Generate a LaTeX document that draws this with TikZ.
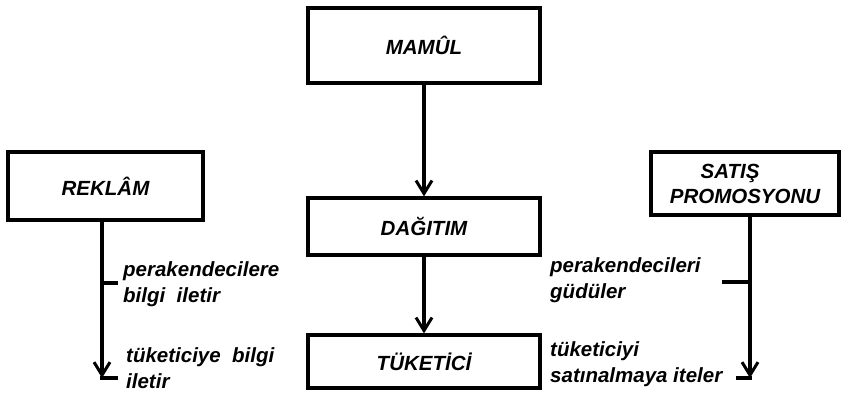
\documentclass[tikz,border=0pt]{standalone}
\usepackage{fontspec}
\setmainfont{Liberation Sans}
\usetikzlibrary{arrows.meta}
\tikzset{
  box/.style={draw, line width=3.2pt, inner sep=0pt, align=center,
    font=\fontsize{20.5}{25}\selectfont\bfseries\itshape},
  lbl/.style={inner sep=0pt, align=left,
    font=\fontsize{20.5}{25.5}\selectfont\bfseries\itshape},
  conn/.style={line width=3.2pt},
  arr/.style={conn, -{Straight Barb[length=13pt,width=16pt,line width=3pt]}},
}
\begin{document}
\begin{tikzpicture}[x=1pt,y=-1pt]
\useasboundingbox (0,0) rectangle (841,395);
% boxes
\node[box, minimum width=232pt, minimum height=75pt] (mamul) at (424,45.5) {MAMÛL};
\node[box, minimum width=232pt, minimum height=57pt] (dagitim) at (424,226.5) {DAĞITIM};
\node[box, minimum width=232pt, minimum height=53pt] (tuketici) at (424,361.5) {TÜKETİCİ};
\node[box, minimum width=195pt, minimum height=68pt] (reklam) at (105.5,186) {REKLÂM};
\node[box, minimum width=188pt, minimum height=63pt] (satis) at (745,183.5) {SATIŞ\hspace*{30pt}\\PROMOSYONU};
% central arrows
\draw[arr] (mamul.south) -- (dagitim.north);
\draw[arr] (dagitim.south) -- (tuketici.north);
% left branch
\coordinate (lt) at (102,283);
\coordinate (ltE) at (118,283);
\coordinate (lb) at (102,378);
\coordinate (lbE) at (118,378);
\draw[arr] (reklam.south -| lb) -- (lb);
\draw[conn] (lt) -- (ltE);
\draw[conn] ([xshift=-1.6pt]lb) -- (lbE);
\node[lbl, anchor=west] (l1) at (123,284) {perakendecilere\\bilgi\ \ iletir};
\node[lbl, anchor=west] (l2) at (126,368) {tüketiciye\ \ bilgi\\iletir};
% right branch
\coordinate (rt) at (750,282);
\coordinate (rtW) at (722,282);
\coordinate (rb) at (750,378);
\coordinate (rbW) at (736,378);
\draw[arr] (satis.south -| rb) -- (rb);
\draw[conn] (rtW) -- (rt);
\draw[conn] (rbW) -- ([xshift=1.6pt]rb);
\node[lbl, anchor=west] (r1) at (550,280) {perakendecileri\\güdüler};
\node[lbl, anchor=west] (r2) at (550,364) {tüketiciyi\\satınalmaya iteler};
\end{tikzpicture}
\end{document}
